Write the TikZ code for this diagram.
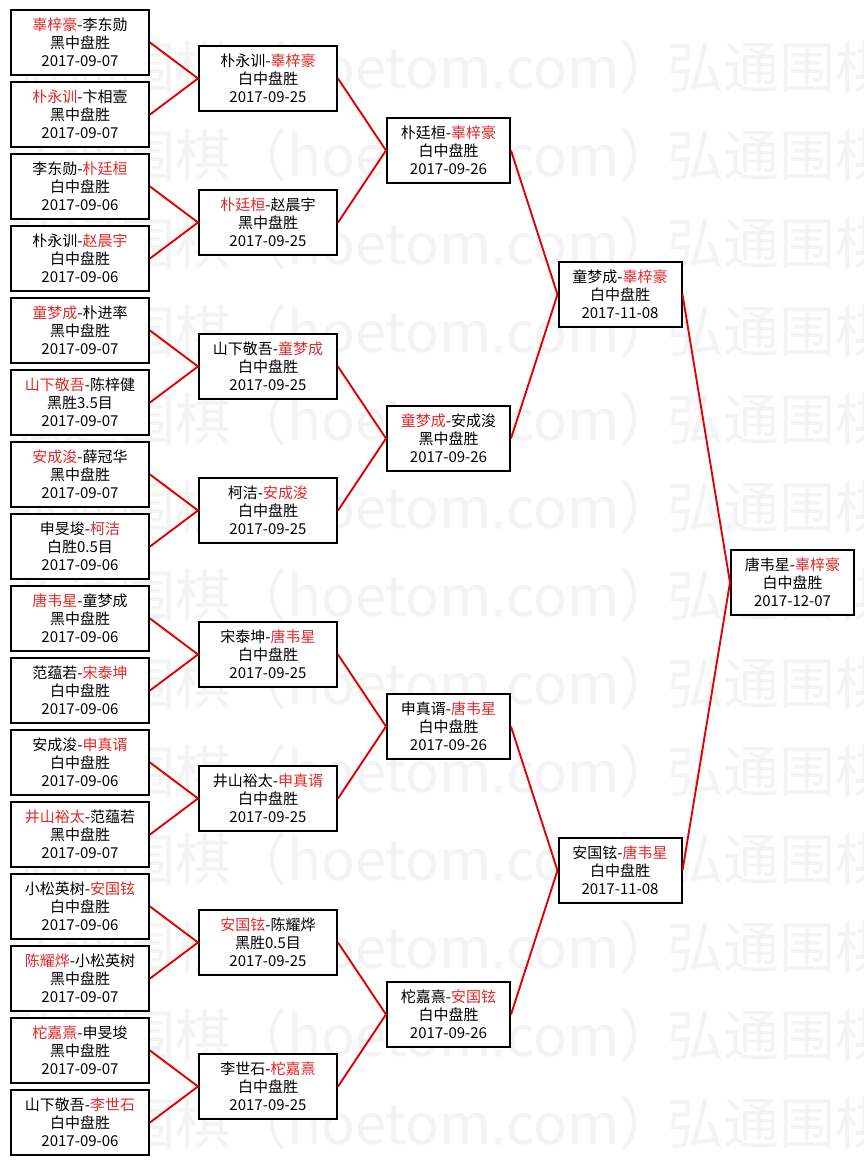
\documentclass[tikz,border=0pt]{standalone}
\usepackage{fontspec}
\setmainfont{Noto Sans CJK SC}
\usepackage{tikz}
\usetikzlibrary{positioning}
\definecolor{namered}{RGB}{228,40,40}
\definecolor{linkred}{RGB}{224,0,0}
\definecolor{wmgray}{RGB}{243,243,243}
\newcommand{\winner}[1]{\textcolor{namered}{#1}}

\begin{document}
\begin{tikzpicture}[
  x=0.75pt, y=-0.75pt,
  node distance=3.75pt,
  game/.style={rectangle, draw=black, line width=1.5pt, fill=white,
               align=center, inner sep=0pt, minimum width=103.5pt,
               minimum height=48.75pt, font=\fontsize{11.25}{13.5}\selectfont},
  late/.style={game, minimum width=92.25pt},
  link/.style={draw=linkred, line width=1.4pt},
  wmark/.style={anchor=west, inner sep=0pt, text=wmgray,
                font=\fontsize{42}{42}\selectfont}]
\useasboundingbox (0,0) rectangle (864,1165);
\fill[white] (0,0) rectangle (864,1165);
\begin{scope}
\clip (0,0) rectangle (864,1165);
\foreach \row in {0,...,12}
  \foreach \col in {0,1}
    \node[wmark] (wm-\row-\col) at ({7+660*\col}, {67+88*\row})
      {弘通围棋（hoetom.com）};
\end{scope}
\node[game] (a1) at (80,42.5) {\winner{辜梓豪}-李东勋\\黑中盘胜\\2017-09-07};
\node[game, below=of a1] (a2) {\winner{朴永训}-卞相壹\\黑中盘胜\\2017-09-07};
\node[game, below=of a2] (a3) {李东勋-\winner{朴廷桓}\\白中盘胜\\2017-09-06};
\node[game, below=of a3] (a4) {朴永训-\winner{赵晨宇}\\白中盘胜\\2017-09-06};
\node[game, below=of a4] (a5) {\winner{童梦成}-朴进率\\黑中盘胜\\2017-09-07};
\node[game, below=of a5] (a6) {\winner{山下敬吾}-陈梓健\\黑胜3.5目\\2017-09-07};
\node[game, below=of a6] (a7) {\winner{安成浚}-薛冠华\\黑中盘胜\\2017-09-07};
\node[game, below=of a7] (a8) {申旻埈-\winner{柯洁}\\白胜0.5目\\2017-09-06};
\node[game, below=of a8] (a9) {\winner{唐韦星}-童梦成\\黑中盘胜\\2017-09-06};
\node[game, below=of a9] (a10) {范蕴若-\winner{宋泰坤}\\白中盘胜\\2017-09-06};
\node[game, below=of a10] (a11) {安成浚-\winner{申真谞}\\白中盘胜\\2017-09-06};
\node[game, below=of a11] (a12) {\winner{井山裕太}-范蕴若\\黑中盘胜\\2017-09-07};
\node[game, below=of a12] (a13) {小松英树-\winner{安国铉}\\白中盘胜\\2017-09-06};
\node[game, below=of a13] (a14) {\winner{陈耀烨}-小松英树\\黑中盘胜\\2017-09-07};
\node[game, below=of a14] (a15) {\winner{柁嘉熹}-申旻埈\\黑中盘胜\\2017-09-07};
\node[game, below=of a15] (a16) {山下敬吾-\winner{李世石}\\白中盘胜\\2017-09-06};
\node[game] (b1) at (268,78.5) {朴永训-\winner{辜梓豪}\\白中盘胜\\2017-09-25};
\node[game] (b2) at (268,222.5) {\winner{朴廷桓}-赵晨宇\\黑中盘胜\\2017-09-25};
\node[game] (b3) at (268,366.5) {山下敬吾-\winner{童梦成}\\白中盘胜\\2017-09-25};
\node[game] (b4) at (268,510.5) {柯洁-\winner{安成浚}\\白中盘胜\\2017-09-25};
\node[game] (b5) at (268,654.5) {宋泰坤-\winner{唐韦星}\\白中盘胜\\2017-09-25};
\node[game] (b6) at (268,798.5) {井山裕太-\winner{申真谞}\\白中盘胜\\2017-09-25};
\node[game] (b7) at (268,942.5) {\winner{安国铉}-陈耀烨\\黑胜0.5目\\2017-09-25};
\node[game] (b8) at (268,1086.5) {李世石-\winner{柁嘉熹}\\白中盘胜\\2017-09-25};
\node[late] (c1) at (448.5,150.5) {朴廷桓-\winner{辜梓豪}\\白中盘胜\\2017-09-26};
\node[late] (c2) at (448.5,438.5) {\winner{童梦成}-安成浚\\黑中盘胜\\2017-09-26};
\node[late] (c3) at (448.5,726.5) {申真谞-\winner{唐韦星}\\白中盘胜\\2017-09-26};
\node[late] (c4) at (448.5,1014.5) {柁嘉熹-\winner{安国铉}\\白中盘胜\\2017-09-26};
\node[late] (d1) at (620,294.5) {童梦成-\winner{辜梓豪}\\白中盘胜\\2017-11-08};
\node[late] (d2) at (620,870.5) {安国铉-\winner{唐韦星}\\白中盘胜\\2017-11-08};
\node[late] (champ) at (792.5,582.5) {唐韦星-\winner{辜梓豪}\\白中盘胜\\2017-12-07};
\draw[link] (a1.east) -- (b1.west) -- (a2.east);
\draw[link] (a3.east) -- (b2.west) -- (a4.east);
\draw[link] (a5.east) -- (b3.west) -- (a6.east);
\draw[link] (a7.east) -- (b4.west) -- (a8.east);
\draw[link] (a9.east) -- (b5.west) -- (a10.east);
\draw[link] (a11.east) -- (b6.west) -- (a12.east);
\draw[link] (a13.east) -- (b7.west) -- (a14.east);
\draw[link] (a15.east) -- (b8.west) -- (a16.east);
\draw[link] (b1.east) -- (c1.west) -- (b2.east);
\draw[link] (b3.east) -- (c2.west) -- (b4.east);
\draw[link] (b5.east) -- (c3.west) -- (b6.east);
\draw[link] (b7.east) -- (c4.west) -- (b8.east);
\draw[link] (c1.east) -- (d1.west) -- (c2.east);
\draw[link] (c3.east) -- (d2.west) -- (c4.east);
\draw[link] (d1.east) -- (champ.west) -- (d2.east);
\end{tikzpicture}
\end{document}
